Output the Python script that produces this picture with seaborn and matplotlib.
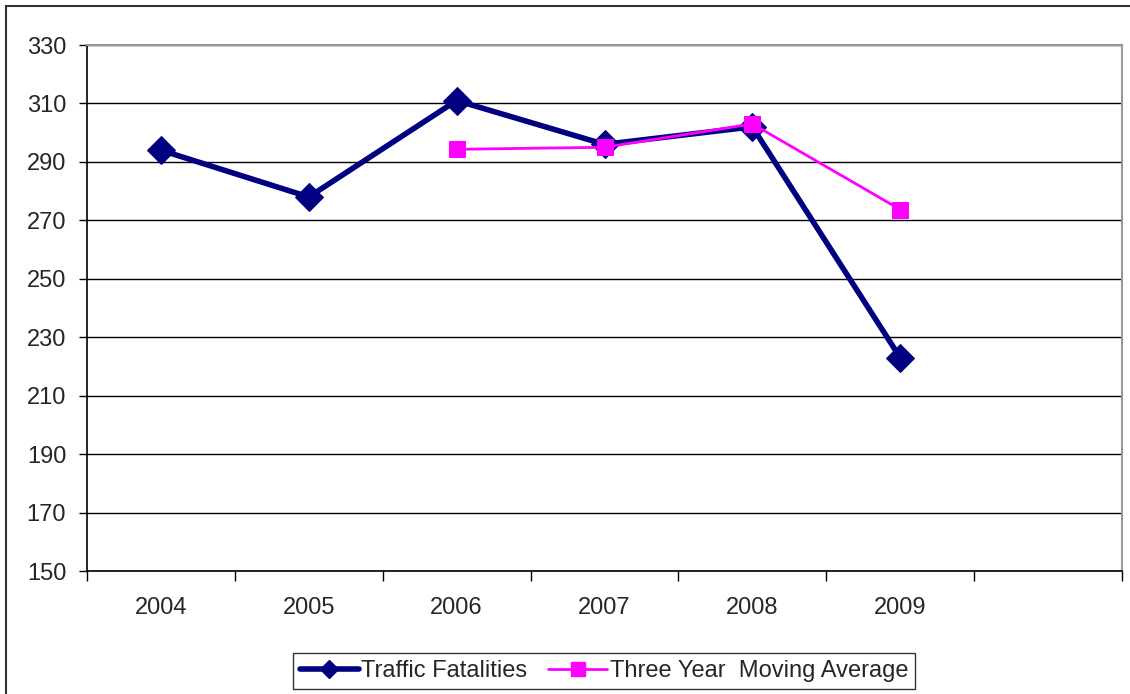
import pandas as pd
import seaborn as sns
import matplotlib
matplotlib.use("Agg")
import matplotlib.pyplot as plt
from matplotlib.patches import Rectangle
from matplotlib.lines import Line2D

years = ['2004', '2005', '2006', '2007', '2008', '2009']
fatalities = [294, 278, 311, 296, 302, 223]
moving_avg = [None, None, 294.3, 295.0, 303.0, 273.7]
y_ticks = [150, 170, 190, 210, 230, 250, 270, 290, 310, 330]

df = pd.DataFrame({'year': years, 'fatal': fatalities, 'avg': moving_avg})
df['pos'] = range(len(years))
df['avg'] = df['avg'].astype(float)

sns.set_style('white')
plt.rcParams['font.family'] = ['Liberation Sans', 'DejaVu Sans']

fig = plt.figure(figsize=(11.3, 6.94), dpi=100)
ax = fig.add_axes([87 / 1130, 1 - 571 / 694, (1122 - 87) / 1130, (571 - 45) / 694])

navy = '#000080'
magenta = '#FF00FF'

sns.lineplot(data=df, x='pos', y='fatal', ax=ax, color=navy, lw=4,
             marker='D', markersize=14, markeredgecolor=navy, zorder=3)
sns.lineplot(data=df.dropna(), x='pos', y='avg', ax=ax, color=magenta, lw=2,
             marker='s', markersize=12, markeredgecolor=magenta, zorder=4)

ax.set_xlim(-0.5, 6.5)
ax.set_ylim(150, 330)
ax.set_yticks(y_ticks)
ax.set_yticklabels([str(v) for v in y_ticks], fontsize=17)
ax.set_xticks(range(len(years)))
ax.set_xticklabels(years, fontsize=17)
ax.set_xticks([i - 0.5 for i in range(8)], minor=True)
ax.tick_params(axis='x', which='major', length=0, pad=19)
ax.tick_params(axis='x', which='minor', length=7, width=1, color='black', direction='out', bottom=True)
ax.tick_params(axis='y', length=6, width=1, color='black', direction='out', left=True, pad=9)
ax.set_xlabel('')
ax.set_ylabel('')

ax.set_axisbelow(True)
ax.yaxis.grid(True, color='black', lw=1)
ax.xaxis.grid(False)
for side in ['left', 'bottom']:
    ax.spines[side].set_color('black')
    ax.spines[side].set_linewidth(1.2)
for side in ['top', 'right']:
    ax.spines[side].set_color('#999999')
    ax.spines[side].set_linewidth(1.5)

handles = [
    Line2D([], [], color=navy, lw=4, marker='D', markersize=9, markeredgecolor=navy),
    Line2D([], [], color=magenta, lw=2, marker='s', markersize=10, markeredgecolor=magenta),
]
leg = fig.legend(handles, ['Traffic Fatalities', 'Three Year  Moving Average'],
                 loc='center', bbox_to_anchor=(604 / 1130, 1 - 671 / 694), ncol=2,
                 frameon=True, fancybox=False, edgecolor='black', fontsize=17,
                 handlelength=2.5, handletextpad=0.1, columnspacing=0.9,
                 borderpad=0.3, borderaxespad=0)
leg.get_frame().set_linewidth(1)

# outer chart frame
fig.patches.append(Rectangle((6 / 1130, -0.05), 1.1, 1 - 6 / 694 + 0.05,
                             transform=fig.transFigure, fill=False,
                             edgecolor='#333333', lw=1.5))

fig.savefig('out.png', dpi=100)
